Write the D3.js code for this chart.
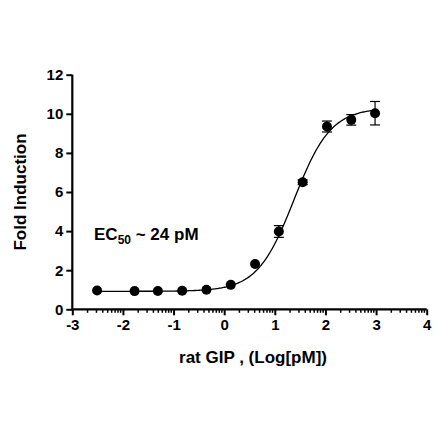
<!DOCTYPE html>
<html><head><meta charset="utf-8">
<script src="https://cdn.jsdelivr.net/npm/d3@7"></script>
<style>body{margin:0;background:#fff}text{font-family:"Liberation Sans",Arial,sans-serif;font-weight:bold}</style>
</head><body><svg id="c" width="440" height="440"></svg>
<script>
const logDose=[-2.51,-1.77,-1.31,-0.83,-0.35,0.13,0.61,1.08,1.55,2.03,2.51,2.98];
const fold=[0.96,0.93,0.94,0.95,1.0,1.25,2.32,3.98,6.5,9.35,9.69,10.03];
const err=[0.05,0.05,0.05,0.05,0.05,0.08,0.1,0.3,0.12,0.28,0.27,0.6];
const fitParams={bottom:0.92,top:10.3,logEC50:1.38,hill:1.2};
const xTicks=[-3,-2,-1,0,1,2,3,4];
const yTicks=[0,2,4,6,8,10,12];

const svg=d3.select("#c");
const x=d3.scaleLinear().domain([-3,4]).range([72.3,426.7]);
const y=d3.scaleLinear().domain([0,12]).range([309.3,74.7]);
const g=svg.append("g");
const fmt=d=>String(d);
const xa=g.append("g").attr("transform","translate(0,309.3)")
 .call(d3.axisBottom(x).tickValues(xTicks).tickSize(6).tickPadding(4).tickFormat(fmt));
const ya=g.append("g").attr("transform","translate(72.3,0)")
 .call(d3.axisLeft(y).tickValues(yTicks).tickSize(6).tickPadding(3).tickFormat(fmt));
[xa,ya].forEach(a=>{a.attr("font-size",null).attr("font-family",null);a.select(".domain").attr("stroke-width",2.2);a.selectAll(".tick line").attr("stroke-width",2);a.selectAll("text").style("font-size","15px").attr("fill","#000");});
xa.select(".domain").attr("d",`M${x(-3)},0H${x(4)}`);
ya.select(".domain").attr("d",`M0,${y(12)}V${y(0)}`);
const minor=[];
for(let d=-3;d<4;d++)for(let k=2;k<=9;k++)minor.push(d+Math.log10(k));
xa.selectAll(".minor").data(minor).join("line").attr("x1",d=>x(d)).attr("x2",d=>x(d)).attr("y1",0).attr("y2",3.5).attr("stroke","#000").attr("stroke-width",1.5);
const f=v=>fitParams.bottom+(fitParams.top-fitParams.bottom)/(1+Math.pow(10,fitParams.hill*(fitParams.logEC50-v)));
const xs=d3.range(-2.51,2.981,0.02);
g.append("path").datum(xs).attr("fill","none").attr("stroke","#000").attr("stroke-width",1.3)
 .attr("d",d3.line().x(d=>x(d)).y(d=>y(f(d))));
const pts=logDose.map((d,i)=>({x:d,y:fold[i],e:err[i]}));
const eb=g.selectAll(".eb").data(pts.filter(p=>p.e>0.1)).join("g");
eb.append("line").attr("x1",p=>x(p.x)).attr("x2",p=>x(p.x)).attr("y1",p=>y(p.y+p.e)).attr("y2",p=>y(p.y-p.e)).attr("stroke","#000").attr("stroke-width",1.2);
[1,-1].forEach(s=>eb.append("line").attr("x1",p=>x(p.x)-5).attr("x2",p=>x(p.x)+5).attr("y1",p=>y(p.y+s*p.e)).attr("y2",p=>y(p.y+s*p.e)).attr("stroke","#000").attr("stroke-width",1.2));
g.selectAll(".pt").data(pts).join("circle").attr("cx",p=>x(p.x)).attr("cy",p=>y(p.y)).attr("r",5).attr("fill","#000");
const t=svg.append("text").attr("x",94).attr("y",240).style("font-size","17px");
t.append("tspan").text("EC");
t.append("tspan").style("font-size","12px").attr("dy",4).text("50");
t.append("tspan").attr("dy",-4).text(" ~ 24 pM");
svg.append("text").attr("x",253).attr("y",363).attr("text-anchor","middle").style("font-size","17px").text("rat GIP , (Log[pM])");
svg.append("text").attr("transform","translate(26,192) rotate(-90)").attr("text-anchor","middle").style("font-size","17px").text("Fold Induction");
</script></body></html>
